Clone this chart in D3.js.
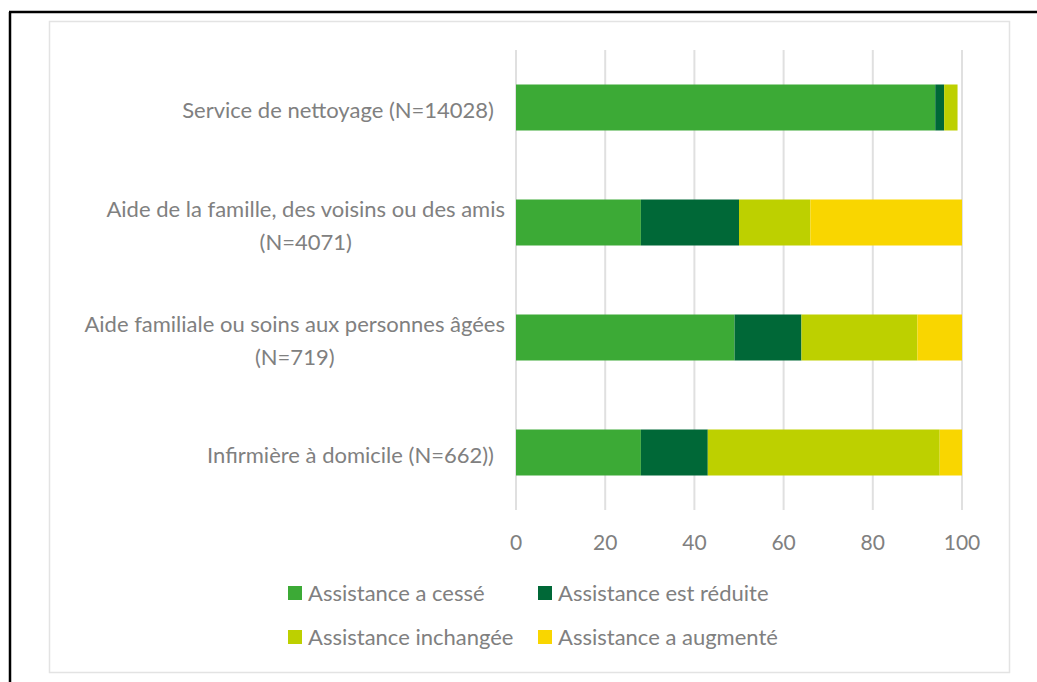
<!DOCTYPE html>
<html>
<head>
<meta charset="utf-8">
<script src="https://cdn.jsdelivr.net/npm/d3@7"></script>
<style>
  body { margin: 0; background: #fff; }
  text { font-family: Lato, "Open Sans", sans-serif; fill: #808080; }
</style>
</head>
<body>
<div id="chart"></div>
<script>
var categories = [
    ["Service de nettoyage (N=14028)"],
    ["Aide de la famille, des voisins ou des amis", "(N=4071)"],
    ["Aide familiale ou soins aux personnes âgées", "(N=719)"],
    ["Infirmière à domicile (N=662))"]
];
var seriesNames = ["Assistance a cessé", "Assistance est réduite", "Assistance inchangée", "Assistance a augmenté"];
var colors = ["#3caa36", "#006837", "#bdd000", "#f9d600"];
var cesse = [94, 28, 49, 28];
var reduite = [2, 22, 15, 15];
var inchangee = [3, 16, 26, 52];
var augmente = [0, 34, 10, 5];
var ticks = [0, 20, 40, 60, 80, 100];

var W = 1037, H = 682;
var svg = d3.select("#chart").append("svg")
    .attr("width", W)
    .attr("height", H);

// outer black frame (left + top only)
svg.append("line").attr("x1", 10).attr("x2", 10).attr("y1", 12).attr("y2", H)
    .attr("stroke", "#000").attr("stroke-width", 2.5);
svg.append("line").attr("x1", 9).attr("x2", W).attr("y1", 12).attr("y2", 12)
    .attr("stroke", "#000").attr("stroke-width", 2.5);

// chart area frame
svg.append("rect").attr("x", 49.5).attr("y", 21.5).attr("width", 960).attr("height", 651)
    .attr("fill", "#fff").attr("stroke", "#e3e3e3").attr("stroke-width", 1.5);

var m = {top: 50, left: 516};

var g = svg.append("g").attr("transform", "translate(" + m.left + "," + m.top + ")");

var x = d3.scaleLinear().domain([0, 100]).range([0, 446]);
var y = d3.scaleBand().domain(d3.range(categories.length)).range([0, 460])
    .paddingInner(0.6).paddingOuter(0.3);

// gridlines
g.selectAll(".grid").data(ticks).enter().append("line")
    .attr("x1", function(d) { return x(d); })
    .attr("x2", function(d) { return x(d); })
    .attr("y1", 0).attr("y2", 460)
    .attr("stroke", "#e0e0e0").attr("stroke-width", 2);

// stacked data
var rows = categories.map(function(c, i) {
    return {i: i, vals: [cesse[i], reduite[i], inchangee[i], augmente[i]]};
});
var stack = d3.stack().keys([0, 1, 2, 3]).value(function(d, k) { return d.vals[k]; });
var layers = stack(rows);

g.selectAll(".layer").data(layers).enter().append("g")
    .attr("fill", function(d, i) { return colors[i]; })
    .selectAll("rect").data(function(d) { return d; }).enter().append("rect")
    .attr("x", function(d) { return x(d[0]); })
    .attr("width", function(d) { return x(d[1]) - x(d[0]); })
    .attr("y", function(d) { return y(d.data.i); })
    .attr("height", y.bandwidth());

// category labels
categories.forEach(function(lines, i) {
    var cy = y(i) + y.bandwidth() / 2;
    var lg = g.append("g");
    var texts = lines.map(function(l, j) {
        return lg.append("text")
            .attr("text-anchor", "middle")
            .attr("y", cy + 3 + (j - (lines.length - 1) / 2) * 33)
            .attr("dy", "0.35em")
            .style("font-size", "22px")
            .text(l);
    });
    var maxW = d3.max(texts, function(t) { return t.node().getComputedTextLength(); });
    var right = lines.length > 1 ? -11 : -22;
    texts.forEach(function(t) { t.attr("x", right - maxW / 2); });
});

// x axis labels
g.selectAll(".tick-label").data(ticks).enter().append("text")
    .attr("x", function(d) { return x(d); })
    .attr("y", 493)
    .attr("dy", "0.35em")
    .attr("text-anchor", "middle")
    .style("font-size", "21px")
    .text(function(d) { return d; });

// legend
var legPos = [[288, 593], [538, 593], [288, 637], [538, 637]];
seriesNames.forEach(function(s, i) {
    var lg = svg.append("g").attr("transform", "translate(" + legPos[i][0] + "," + legPos[i][1] + ")");
    lg.append("rect").attr("x", 0).attr("y", -7).attr("width", 14).attr("height", 14).attr("fill", colors[i]);
    lg.append("text").attr("x", 20).attr("dy", "0.35em").style("font-size", "22px").text(s);
});
</script>
</body>
</html>
